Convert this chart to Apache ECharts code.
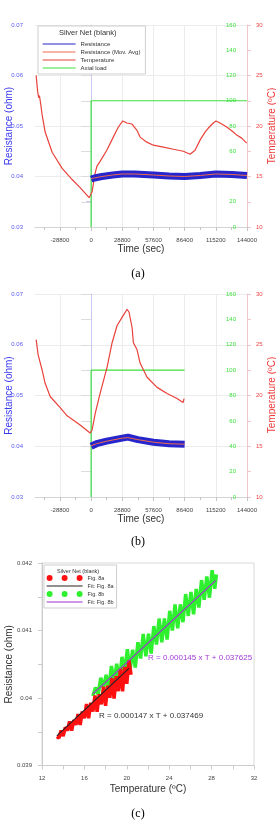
<!DOCTYPE html>
<html><head><meta charset="utf-8">
<script src="https://cdn.jsdelivr.net/npm/echarts@6/dist/echarts.min.js"></script>
<style>html,body{margin:0;padding:0;background:#fff}#c{width:276px;height:822px}</style>
</head><body><div id="c"></div>
<script>
// ---------- data ----------
const timeMin = -51840, timeMax = 144000;
const timeMajorTicks = [-28800, 0, 28800, 57600, 86400, 115200, 144000];
const timeMinorTicks = [-43200, -14400, 14400, 43200, 72000, 100800, 129600];

// (a) Temperature (ºC) vs time (s)
const aTempTime = [-50770,-49385,-48462,-47723,-46615,-45231,-42462,-36000,-26770,-17540,-10154,-1846,0,923,3692,5262,8308,14492,19108,23723,25200,29262,32954,37570,42185,45231,51415,57508,66740,75970,85200,91385,96000,100615,105231,108277,112892,115385,119077,125262,131354,134492,139108,143723];
const aTempVal  = [25.0,23.4,22.8,23.0,22.2,21.1,19.4,17.4,15.8,14.7,13.9,12.9,13.0,13.5,15.3,16.0,16.5,17.6,18.6,19.6,19.9,20.5,20.3,20.2,19.6,18.9,18.4,18.1,17.9,17.7,17.5,17.2,17.6,18.6,19.4,19.8,20.3,20.5,20.3,19.9,19.4,19.1,18.8,18.3];
// (a) Axial load
const aLoadTime = [0, 0, 144000];
const aLoadVal  = [0, 100, 100];
// (a) Resistance (ohm)
const aResTime = [0, 3000, 10000, 20000, 28800, 40000, 57600, 72000, 86400, 100800, 115200, 130000, 144000];
const aResVal  = [0.0395, 0.0397, 0.0400, 0.0403, 0.0405, 0.0405, 0.0403, 0.0401, 0.0400, 0.0402, 0.0405, 0.0404, 0.0402];
const aAvgVal  = [0.0396, 0.0397, 0.0400, 0.0403, 0.0405, 0.0405, 0.0403, 0.0401, 0.0400, 0.0402, 0.0405, 0.0404, 0.0402];

// (b)
const bTempTime = [-50770,-48923,-45231,-42462,-37846,-28615,-22154,-10154,-923,900,3692,8308,14769,19385,24000,28615,33231,35077,37846,39046,42462,45231,51692,60923,70154,79385,84923,85846];
const bTempVal  = [25.5,24.0,22.5,21.2,19.9,18.8,18.0,17.1,16.3,16.6,18.2,20.2,22.8,25.2,26.9,27.7,28.5,28.2,26.7,25.2,24.5,23.2,21.8,20.8,20.2,19.7,19.3,19.7];
const bLoadTime = [0, 0, 86400];
const bLoadVal  = [0, 100, 100];
const bResTime = [0, 5000, 14400, 28800, 34000, 43200, 57600, 72000, 86400];
const bResVal  = [0.0400, 0.0405, 0.0410, 0.0416, 0.0418, 0.0413, 0.0408, 0.0405, 0.0404];
const bAvgVal  = [0.0401, 0.0405, 0.0410, 0.0416, 0.0417, 0.0413, 0.0408, 0.0405, 0.0404];

// (c) Resistance vs temperature
const cRedT = [13.4,13.6,13.8,14.0,14.2,14.4,14.6,14.8,15.0,15.2,15.4,15.6,15.8,16.0,16.2,16.4,16.6,16.8,17.0,17.2,17.4,17.6,17.8,18.0,18.2,18.4,18.6,18.8,19.0,19.2,19.4,19.6,19.8,20.0,20.2,20.4];
const cRedR = [0.039429,0.039408,0.039518,0.039437,0.039566,0.039516,0.039655,0.039515,0.039674,0.039603,0.039763,0.039602,0.039801,0.039701,0.039910,0.039700,0.039929,0.039799,0.040038,0.039797,0.040057,0.039906,0.040166,0.039885,0.040184,0.040004,0.040293,0.039993,0.040322,0.040101,0.040431,0.040100,0.040460,0.040209,0.040558,0.040345];
const cGreenT = [16.8,17.05,17.3,17.55,17.8,18.05,18.3,18.55,18.8,19.05,19.3,19.55,19.8,20.05,20.3,20.55,20.8,21.05,21.3,21.55,21.8,22.05,22.3,22.55,22.8,23.05,23.3,23.55,23.8,24.05,24.3,24.55,24.8,25.05,25.3,25.55,25.8,26.05,26.3,26.55,26.8,27.05,27.3,27.55,27.8,28.05,28.3,28.45];
const cGreenR = [0.040030,0.040157,0.040054,0.040300,0.040146,0.040342,0.040129,0.040475,0.040241,0.040507,0.040254,0.040610,0.040376,0.040722,0.040409,0.040715,0.040451,0.040827,0.040584,0.040950,0.040616,0.040952,0.040659,0.041065,0.040791,0.041177,0.040824,0.041180,0.040866,0.041292,0.040999,0.041385,0.041031,0.041387,0.041124,0.041540,0.041216,0.041572,0.041239,0.041615,0.041341,0.041747,0.041454,0.041800,0.041486,0.041892,0.041619,0.041830];
const cFitAT = [13.4, 20.2];
const cFitAR = [0.039439, 0.040438];
const cFitBT = [16.8, 28.4];
const cFitBR = [0.040061, 0.041743];

// ---------- chart ----------
const zip = (a, b) => a.map((v, i) => [v, b[i]]);
const FONT = 'Liberation Sans, Arial, sans-serif';
const chart = echarts.init(document.getElementById('c'), null, {renderer: 'canvas'});

function timeAxes(g) {
  return [{
    type: 'value', gridIndex: g, min: timeMin, max: timeMax, position: 'bottom',
    axisLine: {show: true, lineStyle: {color: '#d4d4d4'}},
    axisTick: {show: true, length: 4, lineStyle: {color: '#c4c4c4'}, customValues: timeMajorTicks},
    axisLabel: {customValues: timeMajorTicks, fontSize: 6, color: '#444', margin: 10, fontFamily: FONT,
                formatter: v => String(Math.round(v))},
    splitLine: {show: true, lineStyle: {color: '#ececec'}},
    name: 'Time (sec)', nameLocation: 'middle', nameGap: 17,
    nameTextStyle: {fontSize: 10, color: '#333', fontFamily: FONT}
  }, {
    type: 'value', gridIndex: g, min: timeMin, max: timeMax, position: 'bottom',
    axisLine: {show: false},
    axisTick: {show: true, length: 3, lineStyle: {color: '#c4c4c4'}, customValues: timeMinorTicks},
    axisLabel: {show: false}, splitLine: {show: false}
  }];
}
function leftRes(g) {
  return {
    type: 'value', gridIndex: g, position: 'left', min: 0.03, max: 0.07, interval: 0.01,
    axisLine: {show: true, lineStyle: {color: '#cacaf0'}},
    axisTick: {show: true, length: 5, lineStyle: {color: '#cacaf0'}},
    minorTick: {show: true, splitNumber: 2, length: 5, lineStyle: {color: '#cacaf0'}},
    axisLabel: {fontSize: 6, color: '#5858f0', margin: 12, fontFamily: FONT},
    splitLine: {show: true, lineStyle: {color: '#ececec'}},
    name: 'Resistance (ohm)', nameLocation: 'middle', nameGap: 21, nameMoveOverlap: false,
    nameTextStyle: {fontSize: 10, color: '#3a3af0', fontFamily: FONT}
  };
}
function greenLoad(g) {
  return {
    type: 'value', gridIndex: g, position: 'right', offset: 0, min: 0, max: 160, interval: 20,
    axisLine: {show: false},
    axisTick: {show: true, inside: true, length: 10, lineStyle: {color: '#dcdcdc'}},
    axisLabel: {inside: true, fontSize: 6, color: '#3ee03e', margin: 11, fontFamily: FONT},
    splitLine: {show: false}
  };
}
function redTemp(g) {
  return {
    type: 'value', gridIndex: g, position: 'right', offset: 0, min: 10, max: 30, interval: 5,
    axisLine: {show: true, lineStyle: {color: '#f2c6c6'}},
    axisTick: {show: true, length: 4, lineStyle: {color: '#f2c6c6'}},
    minorTick: {show: true, splitNumber: 2, length: 4, lineStyle: {color: '#f2c6c6'}},
    axisLabel: {fontSize: 6, color: '#ee4444', margin: 9, fontFamily: FONT},
    splitLine: {show: false}
  };
}
function timeSeries(xi, yi, resT, resV, avgV, tempT, tempV, loadT, loadV) {
  return [
    {name: 'Axial load', type: 'line', xAxisIndex: xi, yAxisIndex: yi + 1, data: zip(loadT, loadV),
     symbol: 'none', lineStyle: {color: '#3ee03e', width: 1.2}, itemStyle: {color: '#3ee03e'}, z: 2},
    {name: 'Temperature', type: 'line', xAxisIndex: xi, yAxisIndex: yi + 2, data: zip(tempT, tempV),
     symbol: 'none', lineStyle: {color: '#e8423a', width: 1.2}, itemStyle: {color: '#e8423a'}, z: 3},
    {name: 'Resistance', type: 'line', xAxisIndex: xi, yAxisIndex: yi, data: zip(resT, resV),
     symbol: 'none', lineStyle: {color: '#2626cc', width: 7}, itemStyle: {color: '#6a6af0'}, z: 4},
    {name: 'Resistance (Mov. Avg)', type: 'line', xAxisIndex: xi, yAxisIndex: yi, data: zip(resT, avgV),
     symbol: 'none', lineStyle: {color: '#ee6a50', width: 1}, itemStyle: {color: '#f4a070'}, z: 5}
  ];
}
const dots = 'path://M0,3a3,3 0 1,0 6,0a3,3 0 1,0 -6,0zM15,3a3,3 0 1,0 6,0a3,3 0 1,0 -6,0zM30,3a3,3 0 1,0 6,0a3,3 0 1,0 -6,0z';
const noSym = {opacity: 0};

const option = {
  animation: false,
  textStyle: {fontFamily: FONT},
  grid: [
    {left: 35, top: 25, width: 212, height: 202, outerBoundsMode: 'none', containLabel: false},
    {left: 35, top: 294, width: 212, height: 203, outerBoundsMode: 'none', containLabel: false},
    {left: 42, top: 563, width: 212, height: 202.5, outerBoundsMode: 'none', containLabel: false,
     show: true, borderColor: '#d8d8d8', borderWidth: 1}
  ],
  title: [
    {text: 'Silver Net (blank)', left: 59, top: 29, padding: 0, textStyle: {fontSize: 7.5, fontWeight: 'normal', color: '#333', fontFamily: FONT}},
    {text: 'Silver Net (blank)', left: 57, top: 568, padding: 0, textStyle: {fontSize: 5.5, fontWeight: 'normal', color: '#333', fontFamily: FONT}},
    {text: '(a)', left: 'center', top: 268, padding: 0, textStyle: {fontSize: 12, fontWeight: 'normal', color: '#000', fontFamily: 'Liberation Serif'}},
    {text: '(b)', left: 'center', top: 536, padding: 0, textStyle: {fontSize: 12, fontWeight: 'normal', color: '#000', fontFamily: 'Liberation Serif'}},
    {text: '(c)', left: 'center', top: 808, padding: 0, textStyle: {fontSize: 12, fontWeight: 'normal', color: '#000', fontFamily: 'Liberation Serif'}}
  ],
  legend: [
    {data: ['Resistance', 'Resistance (Mov. Avg)', 'Temperature', 'Axial load'],
     left: 38, top: 26, orient: 'vertical', padding: [15, 5, 3, 4], itemWidth: 33, itemHeight: 6, itemGap: 2,
     selectedMode: false, lineStyle: {width: 1.2}, itemStyle: noSym,
     textStyle: {fontSize: 6, color: '#333', fontFamily: FONT},
     borderColor: '#cfcfcf', borderWidth: 1, backgroundColor: '#fff'},
    {data: [{name: 'Fig. 8a', icon: dots}, {name: 'Fit: Fig. 8a', itemStyle: noSym},
            {name: 'Fig. 8b', icon: dots}, {name: 'Fit: Fig. 8b', itemStyle: noSym}],
     left: 44, top: 565, orient: 'vertical', padding: [10, 3, 3, 2], itemWidth: 36, itemHeight: 6, itemGap: 2,
     selectedMode: false, lineStyle: {width: 1.2}, textStyle: {fontSize: 5.5, color: '#333', fontFamily: FONT},
     borderColor: '#cfcfcf', borderWidth: 1, backgroundColor: '#fff'}
  ],
  xAxis: [
    ...timeAxes(0), ...timeAxes(1),
    {type: 'value', gridIndex: 2, min: 12, max: 32, interval: 4,
     axisLine: {show: true, lineStyle: {color: '#cccccc'}},
     axisTick: {show: true, length: 4, lineStyle: {color: '#cccccc'}},
     minorTick: {show: true, splitNumber: 2, length: 4, lineStyle: {color: '#cccccc'}},
     axisLabel: {fontSize: 6, color: '#444', margin: 10, fontFamily: FONT},
     splitLine: {show: false},
     name: 'Temperature (ºC)', nameLocation: 'middle', nameGap: 19,
     nameTextStyle: {fontSize: 10, color: '#333', fontFamily: FONT}}
  ],
  yAxis: [
    leftRes(0), greenLoad(0), redTemp(0),
    leftRes(1), greenLoad(1), redTemp(1),
    {type: 'value', gridIndex: 2, min: 0.039, max: 0.042, interval: 0.001,
     axisLine: {show: true, lineStyle: {color: '#cccccc'}},
     axisTick: {show: true, length: 4, lineStyle: {color: '#cccccc'}},
     minorTick: {show: true, splitNumber: 2, length: 4, lineStyle: {color: '#cccccc'}},
     axisLabel: {fontSize: 6, color: '#444', margin: 10, fontFamily: FONT},
     splitLine: {show: false},
     name: 'Resistance (ohm)', nameLocation: 'middle', nameGap: 28, nameMoveOverlap: false,
     nameTextStyle: {fontSize: 10, color: '#333', fontFamily: FONT}}
  ],
  series: [
    ...timeSeries(0, 0, aResTime, aResVal, aAvgVal, aTempTime, aTempVal, aLoadTime, aLoadVal),
    ...timeSeries(2, 3, bResTime, bResVal, bAvgVal, bTempTime, bTempVal, bLoadTime, bLoadVal),
    {name: 'Fig. 8b', type: 'line', xAxisIndex: 4, yAxisIndex: 6, data: zip(cGreenT, cGreenR),
     symbol: 'none', lineStyle: {color: '#2ef02e', width: 3.5}, itemStyle: {color: '#2ef02e'}, z: 2},
    {name: 'Fig. 8a', type: 'line', xAxisIndex: 4, yAxisIndex: 6, data: zip(cRedT, cRedR),
     symbol: 'none', lineStyle: {color: '#ff1010', width: 3.5}, itemStyle: {color: '#ff1010'}, z: 3},
    {name: 'Fit: Fig. 8a', type: 'line', xAxisIndex: 4, yAxisIndex: 6, data: zip(cFitAT, cFitAR),
     symbol: 'none', lineStyle: {color: '#222222', width: 1.2}, itemStyle: {color: '#222222'}, z: 4},
    {name: 'Fit: Fig. 8b', type: 'line', xAxisIndex: 4, yAxisIndex: 6, data: zip(cFitBT, cFitBR),
     symbol: 'none', lineStyle: {color: '#a033d0', width: 1.2}, itemStyle: {color: '#a033d0'}, z: 4}
  ],
  graphic: [
    {type: 'text', x: 272, y: 126, rotation: Math.PI / 2, z: 10,
     style: {text: 'Temperature (ºC)', fill: '#ee3a3a', fontSize: 10, fontFamily: FONT, align: 'center', verticalAlign: 'middle'}},
    {type: 'text', x: 272, y: 395, rotation: Math.PI / 2, z: 10,
     style: {text: 'Temperature (ºC)', fill: '#ee3a3a', fontSize: 10, fontFamily: FONT, align: 'center', verticalAlign: 'middle'}},
    {type: 'text', left: 148, top: 654, z: 10, style: {text: 'R = 0.000145 x T + 0.037625', fill: '#a23ad6', fontSize: 8, fontFamily: FONT}},
    {type: 'text', left: 99, top: 712, z: 10, style: {text: 'R = 0.000147 x T + 0.037469', fill: '#333', fontSize: 8, fontFamily: FONT}}
  ]
};
chart.setOption(option);
</script>
</body></html>
